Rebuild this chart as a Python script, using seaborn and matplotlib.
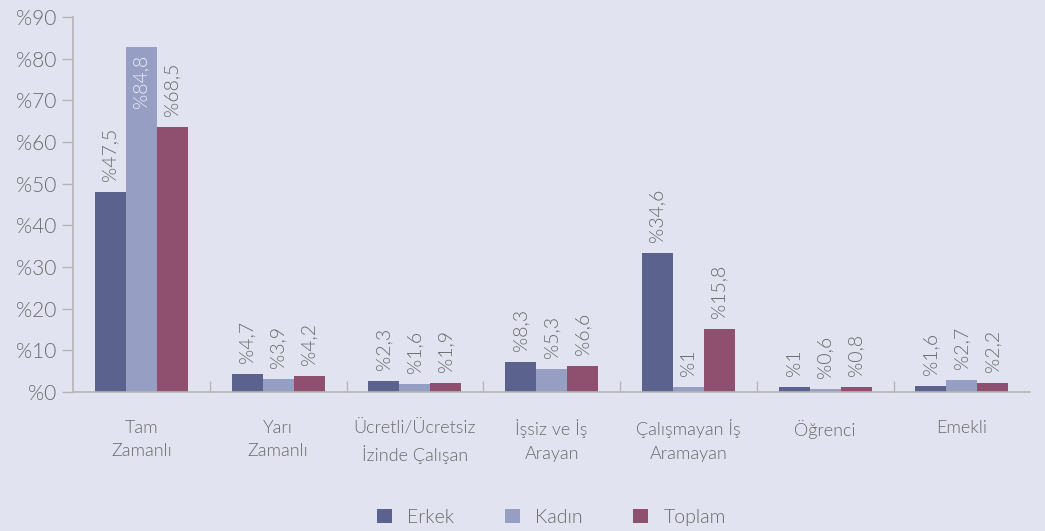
import pandas as pd
import matplotlib.pyplot as plt
import seaborn as sns

# kategoriler ve seriler
kategoriler = ['Tam\nZamanlı', 'Yarı\nZamanlı', 'Ücretli/Ücretsiz\nİzinde Çalışan', 'İşsiz ve İş\nArayan',
               'Çalışmayan İş\nAramayan', 'Öğrenci', 'Emekli']
seriler = ['Erkek', 'Kadın', 'Toplam']

# çubuk yükseklikleri
erkek = [48.0, 4.3, 2.6, 7.2, 33.3, 1.2, 1.5]
kadin = [82.7, 3.1, 1.9, 5.5, 1.2, 0.7, 2.9]
toplam = [63.5, 3.8, 2.2, 6.2, 15.1, 1.2, 2.2]

# çubukların üstündeki etiketler
etiket_erkek = ['%47,5', '%4,7', '%2,3', '%8,3', '%34,6', '%1', '%1,6']
etiket_kadin = ['%84,8', '%3,9', '%1,6', '%5,3', '%1', '%0,6', '%2,7']
etiket_toplam = ['%68,5', '%4,2', '%1,9', '%6,6', '%15,8', '%0,8', '%2,2']

renkler = ['#5b628d', '#969ec4', '#8f506f']
fundo = '#e1e3f0'
cinza = '#6a6a6a'

dados = pd.DataFrame({
    'kategori': kategoriler * 3,
    'seri': [s for s in seriler for _ in kategoriler],
    'deger': erkek + kadin + toplam,
})

plt.rcParams['font.family'] = ['Lato', 'DejaVu Sans']
plt.rcParams['font.weight'] = 300
fig = plt.figure(figsize=(10.45, 5.31), dpi=100, facecolor=fundo)
ax = fig.add_axes([0.0699, 0.262, 0.916, 0.706], facecolor=fundo)

sns.barplot(data=dados, x='kategori', y='deger', hue='seri', palette=renkler,
            width=0.68, saturation=1, ax=ax, legend=True)

etiketler = [etiket_erkek, etiket_kadin, etiket_toplam]
for cont, labs in zip(ax.containers, etiketler):
    for bar, lab in zip(cont, labs):
        h = bar.get_height()
        x = bar.get_x() + bar.get_width() / 2
        if h > 75:
            ax.annotate(lab, (x, h), xytext=(0, -5), textcoords='offset points', rotation=90,
                        ha='center', va='top', fontsize=14, color='#eceef7')
        else:
            ax.annotate(lab, (x, h), xytext=(0, 8), textcoords='offset points', rotation=90,
                        ha='center', va='bottom', fontsize=14, color=cinza)

ax.set_ylim(0, 90)
ax.set_xlim(-0.5, 6.5)
ax.set_yticks(range(0, 91, 10))
ax.set_yticklabels(['%' + str(v) for v in range(0, 91, 10)], fontsize=15, color=cinza)
ax.tick_params(axis='y', length=8, color='#b5b5b5', width=1, pad=4)
ax.tick_params(axis='x', length=0, pad=20, labelsize=13, labelcolor=cinza)
ax.set_xticks(range(len(kategoriler)))
ax.set_xticklabels(kategoriler, linespacing=1.55)
ax.set_xticks([i + 0.5 for i in range(len(kategoriler) - 1)], minor=True)
ax.tick_params(axis='x', which='minor', direction='in', length=8, color='#b5b5b5', width=1)
ax.set_xlabel('')
ax.set_ylabel('')

sns.despine(ax=ax)
for lado in ['left', 'bottom']:
    ax.spines[lado].set_color('#b5b5b5')
    ax.spines[lado].set_linewidth(1.2)

ax.legend(loc='upper center', bbox_to_anchor=(0.5, -0.265), ncol=3, frameon=False,
          fontsize=14, labelcolor=cinza, handlelength=0.75, handleheight=0.75,
          columnspacing=2.6, handletextpad=0.8)

plt.savefig('out.png', dpi=100, facecolor=fundo)
